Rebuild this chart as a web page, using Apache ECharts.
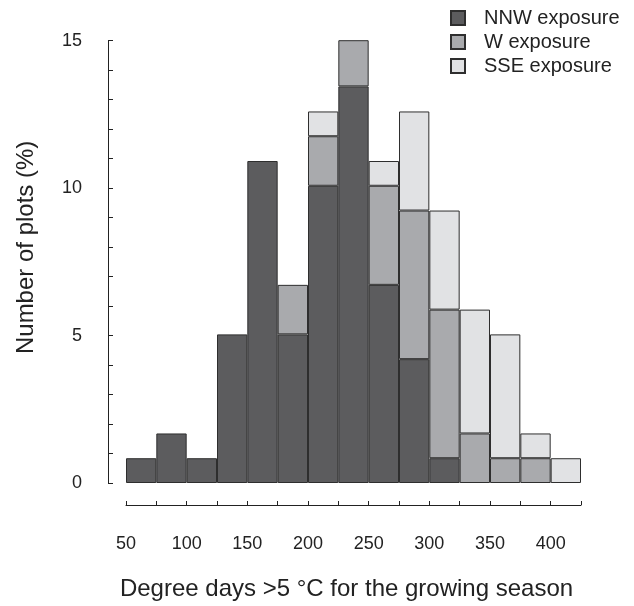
<!DOCTYPE html>
<html>
<head>
<meta charset="utf-8">
<script src="https://cdn.jsdelivr.net/npm/echarts@6/dist/echarts.min.js"></script>
<style>
  html, body { margin: 0; padding: 0; background: #fff; }
  #chart { width: 634px; height: 606px; }
</style>
</head>
<body>
<div id="chart"></div>
<script>
// bin left edges (degree days), width 25
const binStarts = [50, 75, 100, 125, 150, 175, 200, 225, 250, 275, 300, 325, 350, 375, 400];
// stacked segment heights (% of plots)
const nnwValues = [0.84, 1.68, 0.84, 5.04, 10.92, 5.04, 10.08, 13.45, 6.72, 4.2, 0.84, 0, 0, 0, 0];
const wValues   = [0, 0, 0, 0, 0, 1.68, 1.68, 1.68, 3.36, 5.04, 5.04, 1.68, 0.84, 0.84, 0];
const sseValues = [0, 0, 0, 0, 0, 0, 0.84, 0, 0.84, 3.36, 3.36, 4.2, 4.2, 0.84, 0.84];
const xTickLabels = [50, 100, 150, 200, 250, 300, 350, 400];
const yTickLabels = [0, 5, 10, 15];

const FONT = 'Liberation Sans, Arial, sans-serif';
const chart = echarts.init(document.getElementById('chart'));

const seg = (arr) => arr.map(v => (v ? v : '-'));

const barStyle = (color) => ({
  color: color,
  borderColor: '#2e2e2e',
  borderWidth: 1
});

chart.setOption({
  animation: false,
  textStyle: { fontFamily: FONT },
  legend: {
    orient: 'vertical',
    left: 450,
    top: 8,
    padding: 0,
    itemWidth: 14,
    itemHeight: 14,
    itemGap: 4,
    icon: 'rect',
    textStyle: { fontSize: 20, color: '#222', fontFamily: FONT, lineHeight: 20, padding: [0, 0, 0, 14] },
    data: ['NNW exposure', 'W exposure', 'SSE exposure']
  },
  grid: { left: 126, right: 53, top: 40.7, bottom: 122 },
  xAxis: [
    {
      type: 'category',
      data: binStarts,
      show: false
    },
    {
      type: 'value',
      position: 'bottom',
      min: 50,
      max: 425,
      interval: 25,
      offset: 22,
      axisLine: { lineStyle: { color: '#222', width: 1 } },
      axisTick: { inside: true, length: 4, lineStyle: { color: '#222' } },
      splitLine: { show: false },
      axisLabel: {
        fontSize: 18,
        color: '#222',
        margin: 30,
        fontFamily: FONT,
        formatter: (v) => (xTickLabels.includes(v) ? String(v) : '')
      },
      name: 'Degree days >5 °C for the growing season',
      nameLocation: 'middle',
      nameGap: 72,
      nameTextStyle: { fontSize: 24, color: '#222', fontFamily: FONT, padding: [0, 14, 0, 0] }
    }
  ],
  yAxis: {
    type: 'value',
    min: 0,
    max: 15,
    interval: 1,
    offset: 18,
    axisLine: { show: true, lineStyle: { color: '#222', width: 1 } },
    axisTick: { show: true, inside: true, length: 5, lineStyle: { color: '#222' } },
    splitLine: { show: false },
    axisLabel: {
      fontSize: 18,
      color: '#222',
      margin: 26,
      fontFamily: FONT,
      formatter: (v) => (yTickLabels.includes(v) ? String(v) : '')
    },
    name: 'Number of plots (%)',
    nameLocation: 'middle',
    nameGap: 70,
    nameTextStyle: { fontSize: 24, color: '#222', fontFamily: FONT, padding: [0, 0, 0, 29] }
  },
  series: [
    {
      name: 'NNW exposure',
      type: 'bar',
      stack: 'all',
      xAxisIndex: 0,
      barCategoryGap: 0,
      itemStyle: barStyle('#5c5c5e'),
      data: seg(nnwValues)
    },
    {
      name: 'W exposure',
      type: 'bar',
      stack: 'all',
      xAxisIndex: 0,
      barCategoryGap: 0,
      itemStyle: barStyle('#a9aaad'),
      data: seg(wValues)
    },
    {
      name: 'SSE exposure',
      type: 'bar',
      stack: 'all',
      xAxisIndex: 0,
      barCategoryGap: 0,
      itemStyle: barStyle('#e1e2e4'),
      data: seg(sseValues)
    }
  ]
});
</script>
</body>
</html>
